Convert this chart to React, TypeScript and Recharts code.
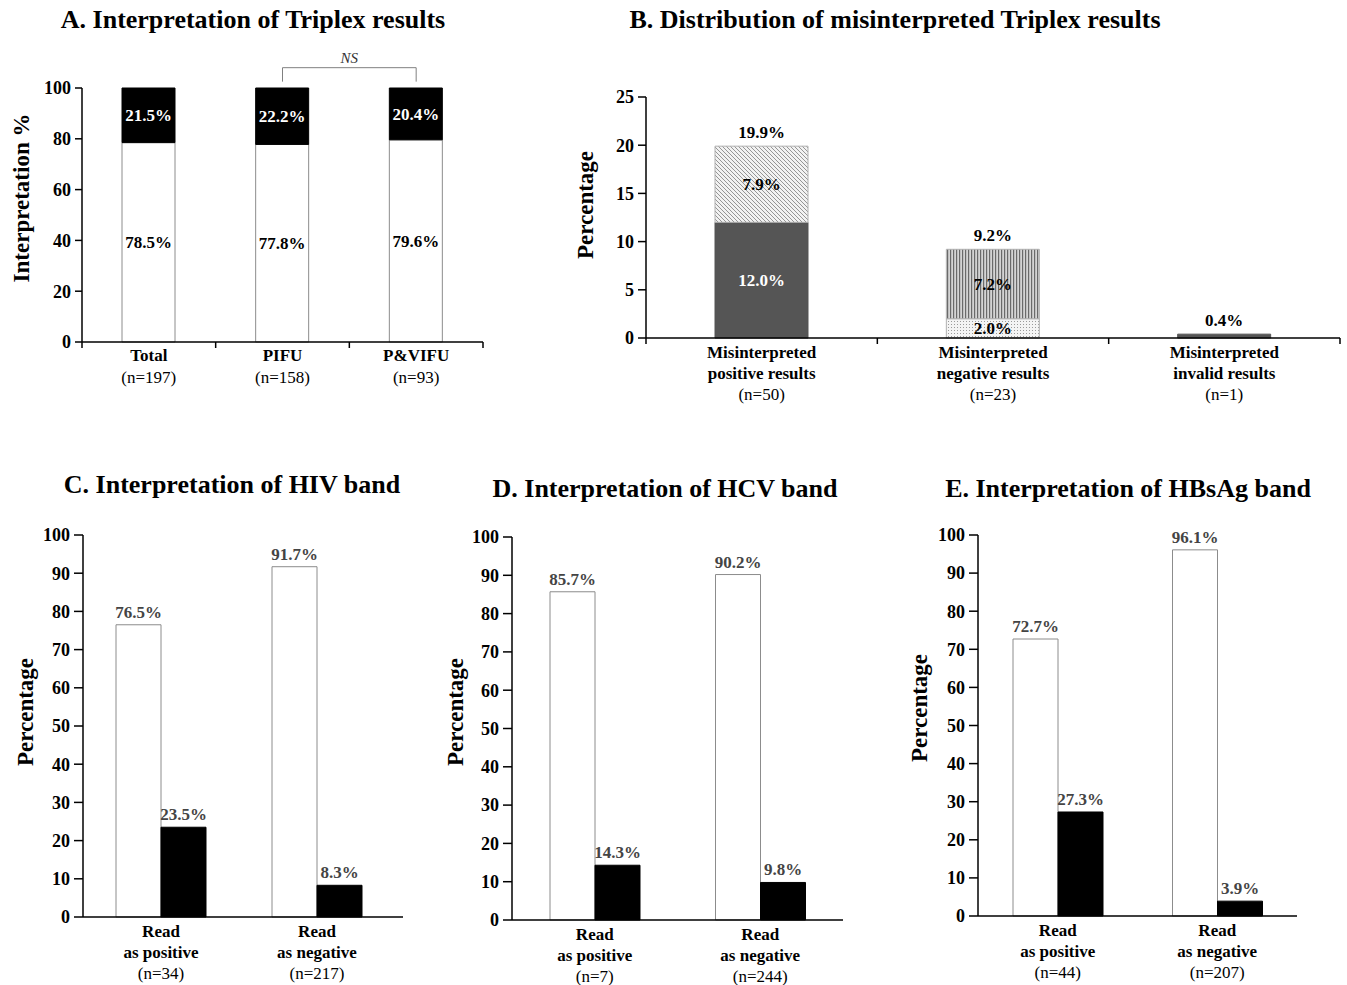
import React from 'react';
import { BarChart, Bar, XAxis, YAxis, LabelList, Cell, ReferenceLine } from 'recharts';

const FONT = '"Liberation Serif", "Times New Roman", Times, serif';

// ---------- Panel A ----------
const groupsA = ['Total', 'PIFU', 'P&VIFU'];
const groupSizesA = ['(n=197)', '(n=158)', '(n=93)'];
const correctA = [78.5, 77.8, 79.6];
const misreadA = [21.5, 22.2, 20.4];
const ticksA = [0, 20, 40, 60, 80, 100];

// ---------- Panel B ----------
const typesB = ['positive', 'negative', 'invalid'];
const typeLinesB = [
  ['Misinterpreted', 'positive results'],
  ['Misinterpreted', 'negative results'],
  ['Misinterpreted', 'invalid results'],
];
const typeSizesB = ['(n=50)', '(n=23)', '(n=1)'];
const lowerB = [12.0, 2.0, 0.4];
const upperB = [7.9, 7.2, 0];
const totalB = [19.9, 9.2, 0.4];
const ticksB = [0, 5, 10, 15, 20, 25];

// ---------- Panels C, D, E ----------
const readAs = ['as positive', 'as negative'];
const hivSizes = ['(n=34)', '(n=217)'];
const hivCorrect = [76.5, 91.7];
const hivWrong = [23.5, 8.3];
const hcvSizes = ['(n=7)', '(n=244)'];
const hcvCorrect = [85.7, 90.2];
const hcvWrong = [14.3, 9.8];
const hbsSizes = ['(n=44)', '(n=207)'];
const hbsCorrect = [72.7, 96.1];
const hbsWrong = [27.3, 3.9];
const ticksPct = [0, 10, 20, 30, 40, 50, 60, 70, 80, 90, 100];

const pct = (v: any) => (typeof v === 'number' ? v.toFixed(1) + '%' : v);

const lowerFillsB = ['#555555', 'url(#dotsB)', '#555555'];
const lowerStrokeB = ['#555555', '#b0b0b0', '#555555'];
const upperFillsB = ['url(#diagB)', 'url(#vertB)', 'none'];
const upperStrokeB = ['#b0b0b0', '#b0b0b0', 'none'];

const Title = ({ x, y, children }: any) => (
  <div
    style={{
      position: 'absolute',
      left: x,
      top: y,
      transform: 'translate(-50%,-50%)',
      whiteSpace: 'nowrap',
      fontWeight: 'bold',
      fontSize: 26,
      lineHeight: 1,
      color: '#000',
    }}
  >
    {children}
  </div>
);

const YTitle = ({ x, y, children }: any) => (
  <div
    style={{
      position: 'absolute',
      left: x,
      top: y,
      transform: 'translate(-50%,-50%) rotate(-90deg)',
      whiteSpace: 'nowrap',
      fontWeight: 'bold',
      fontSize: 23,
      lineHeight: 1,
      color: '#000',
    }}
  >
    {children}
  </div>
);

const yTick = { fill: '#000', fontSize: 18, fontWeight: 'bold' as const };
const axisLine = { stroke: '#000', strokeWidth: 1.5 };

function getBox(props: any) {
  const vb = props.viewBox || {};
  return {
    x: props.x ?? vb.x,
    y: props.y ?? vb.y,
    width: props.width ?? vb.width,
    height: props.height ?? vb.height,
  };
}

// X tick for panel A
function TickA(props: any) {
  const { x, y, payload, index } = props;
  const half = payload && payload.offset ? payload.offset : 67;
  return (
    <g>
      {index === 0 && <line x1={x - half} x2={x - half} y1={y} y2={y + 6} stroke="#000" strokeWidth={1.5} />}
      <line x1={x + half} x2={x + half} y1={y} y2={y + 6} stroke="#000" strokeWidth={1.5} />
      <text x={x} y={y + 19} textAnchor="middle" fontWeight="bold" fontSize={17} fill="#000">
        {payload.value}
      </text>
      <text x={x} y={y + 41} textAnchor="middle" fontSize={17} fill="#000">
        {groupSizesA[index]}
      </text>
    </g>
  );
}

// X tick for panel B
function TickB(props: any) {
  const { x, y, payload, index } = props;
  const half = payload && payload.offset ? payload.offset : 115.5;
  const lines = typeLinesB[index] || ['', ''];
  return (
    <g>
      {index === 0 && <line x1={x - half} x2={x - half} y1={y} y2={y + 6} stroke="#000" strokeWidth={1.5} />}
      <line x1={x + half} x2={x + half} y1={y} y2={y + 6} stroke="#000" strokeWidth={1.5} />
      <text x={x} y={y + 20} textAnchor="middle" fontWeight="bold" fontSize={17} fill="#000">
        {lines[0]}
      </text>
      <text x={x} y={y + 41} textAnchor="middle" fontWeight="bold" fontSize={17} fill="#000">
        {lines[1]}
      </text>
      <text x={x} y={y + 62} textAnchor="middle" fontSize={17} fill="#000">
        {typeSizesB[index]}
      </text>
    </g>
  );
}

function makeBandTick(sizes: string[]) {
  return (props: any) => {
    const { x, y, payload, index } = props;
    return (
      <g>
        <text x={x} y={y + 20} textAnchor="middle" fontWeight="bold" fontSize={17} fill="#000">
          Read
        </text>
        <text x={x} y={y + 41} textAnchor="middle" fontWeight="bold" fontSize={17} fill="#000">
          {payload.value}
        </text>
        <text x={x} y={y + 62} textAnchor="middle" fontSize={17} fill="#000">
          {sizes[index]}
        </text>
      </g>
    );
  };
}

function innerLabelB(values: number[], fills: string[], hideWhen: (i: number) => boolean) {
  return (props: any) => {
    const idx = props.index;
    if (idx == null || hideWhen(idx)) return null;
    const { x, y, width, height } = getBox(props);
    const color = fills[idx] && fills[idx].startsWith('#') ? '#fff' : '#000';
    return (
      <text
        x={x + width / 2}
        y={y + height / 2}
        dy="0.35em"
        textAnchor="middle"
        fontWeight="bold"
        fontSize={17}
        fill={color}
      >
        {pct(values[idx])}
      </text>
    );
  };
}

function totalLabelB(showWhen: (i: number) => boolean) {
  return (props: any) => {
    const idx = props.index;
    if (idx == null || !showWhen(idx)) return null;
    const { x, y, width } = getBox(props);
    return (
      <text x={x + width / 2} y={y - 8} textAnchor="middle" fontWeight="bold" fontSize={17} fill="#000">
        {pct(totalB[idx])}
      </text>
    );
  };
}

function BandChart({ left, top, width, height, margin, xHeight, correct, wrong, sizes, padRight }: any) {
  const rows = readAs.map((r, i) => ({ name: r, correct: correct[i], wrong: wrong[i] }));
  return (
    <div style={{ position: 'absolute', left, top }}>
      <BarChart width={width} height={height} data={rows} margin={margin} barGap={0} barSize={45}>
        <XAxis
          dataKey="name"
          height={xHeight}
          axisLine={axisLine}
          tickLine={false}
          tickSize={0}
          tickMargin={0}
          interval={0}
          padding={{ left: 0, right: padRight }}
          tick={makeBandTick(sizes)}
        />
        <YAxis
          width={50}
          domain={[0, 100]}
          ticks={ticksPct}
          interval={0}
          axisLine={axisLine}
          tickLine={{ stroke: '#000', strokeWidth: 1.5 }}
          tickSize={9}
          tickMargin={4}
          tick={yTick}
        />
        <Bar dataKey="correct" fill="#fff" stroke="#8c8c8c" strokeWidth={1} isAnimationActive={false}>
          <LabelList
            dataKey="correct"
            position="top"
            offset={7}
            formatter={pct}
            fill="#444"
            fontSize={17}
            fontWeight="bold"
          />
        </Bar>
        <Bar dataKey="wrong" fill="#000" stroke="#000" strokeWidth={1} isAnimationActive={false}>
          <LabelList
            dataKey="wrong"
            position="top"
            offset={7}
            formatter={pct}
            fill="#444"
            fontSize={17}
            fontWeight="bold"
          />
        </Bar>
      </BarChart>
    </div>
  );
}

export default function App() {
  const rowsA = groupsA.map((g, i) => ({ name: g, correct: correctA[i], misread: misreadA[i] }));
  const rowsB = typesB.map((t, i) => ({ name: t, lower: lowerB[i], upper: upperB[i], total: totalB[i] }));

  return (
    <div
      style={{
        position: 'absolute',
        left: 0,
        top: 0,
        width: 1347,
        height: 985,
        overflow: 'hidden',
        background: '#fff',
        fontFamily: FONT,
      }}
    >
      <svg width={0} height={0} style={{ position: 'absolute' }}>
        <defs>
          <pattern id="diagB" patternUnits="userSpaceOnUse" width={4} height={4}>
            <rect width={4} height={4} fill="#f2f2f2" />
            <path d="M-1,-1 L5,5 M3,-1 L5,1 M-1,3 L1,5" stroke="#8a8a8a" strokeWidth={0.9} />
          </pattern>
          <pattern id="vertB" patternUnits="userSpaceOnUse" width={3} height={3}>
            <rect width={3} height={3} fill="#d4d4d4" />
            <rect x={0} y={0} width={1.2} height={3} fill="#6a6a6a" />
          </pattern>
          <pattern id="dotsB" patternUnits="userSpaceOnUse" width={3} height={3}>
            <rect width={3} height={3} fill="#f4f4f4" />
            <rect x={1} y={1} width={1} height={1} fill="#9a9a9a" />
          </pattern>
        </defs>
      </svg>

      {/* Titles */}
      <Title x={253} y={20}>A. Interpretation of Triplex results</Title>
      <Title x={895} y={20}>B. Distribution of misinterpreted Triplex results</Title>
      <Title x={232} y={485}>C. Interpretation of HIV band</Title>
      <Title x={665} y={489}>D. Interpretation of HCV band</Title>
      <Title x={1128} y={489}>E. Interpretation of HBsAg band</Title>

      {/* Y titles */}
      <YTitle x={21} y={198}>Interpretation %</YTitle>
      <YTitle x={585} y={205}>Percentage</YTitle>
      <YTitle x={25} y={712}>Percentage</YTitle>
      <YTitle x={455} y={712}>Percentage</YTitle>
      <YTitle x={919} y={708}>Percentage</YTitle>

      {/* Panel A */}
      <div style={{ position: 'absolute', left: 0, top: 40 }}>
        <BarChart
          width={500}
          height={360}
          data={rowsA}
          margin={{ top: 48, right: 17, left: 32, bottom: 8 }}
          barSize={53}
        >
          <XAxis
            dataKey="name"
            height={50}
            axisLine={axisLine}
            tickLine={false}
            tickSize={0}
            tickMargin={0}
            interval={0}
            tick={(p: any) => <TickA {...p} />}
          />
          <YAxis
            width={50}
            domain={[0, 100]}
            ticks={ticksA}
            interval={0}
            axisLine={axisLine}
            tickLine={{ stroke: '#000', strokeWidth: 1.5 }}
            tickSize={7}
            tickMargin={4}
            tick={yTick}
          />
          <Bar dataKey="correct" stackId="a" fill="#fff" stroke="#8c8c8c" strokeWidth={1} isAnimationActive={false}>
            <LabelList dataKey="correct" position="center" formatter={pct} fill="#000" fontSize={17} fontWeight="bold" />
          </Bar>
          <Bar dataKey="misread" stackId="a" fill="#000" stroke="#000" strokeWidth={1} isAnimationActive={false}>
            <LabelList dataKey="misread" position="center" formatter={pct} fill="#fff" fontSize={17} fontWeight="bold" />
          </Bar>
          <ReferenceLine
            segment={[
              { x: 'PIFU', y: 102.5 },
              { x: 'PIFU', y: 108 },
            ]}
            ifOverflow="visible"
            stroke="#808080"
            strokeWidth={1}
          />
          <ReferenceLine
            segment={[
              { x: 'P&VIFU', y: 102.5 },
              { x: 'P&VIFU', y: 108 },
            ]}
            ifOverflow="visible"
            stroke="#808080"
            strokeWidth={1}
          />
          <ReferenceLine
            segment={[
              { x: 'PIFU', y: 108 },
              { x: 'P&VIFU', y: 108 },
            ]}
            ifOverflow="visible"
            stroke="#808080"
            strokeWidth={1}
            label={{ value: 'NS', position: 'top', offset: 5, fontStyle: 'italic', fontSize: 15, fill: '#333' }}
          />
        </BarChart>
      </div>

      {/* Panel B */}
      <div style={{ position: 'absolute', left: 560, top: 80 }}>
        <BarChart
          width={787}
          height={330}
          data={rowsB}
          margin={{ top: 17, right: 7, left: 26, bottom: 10 }}
          barSize={93}
        >
          <XAxis
            dataKey="name"
            height={62}
            axisLine={axisLine}
            tickLine={false}
            tickSize={0}
            tickMargin={0}
            interval={0}
            tick={(p: any) => <TickB {...p} />}
          />
          <YAxis
            width={60}
            domain={[0, 25]}
            ticks={ticksB}
            interval={0}
            axisLine={axisLine}
            tickLine={{ stroke: '#000', strokeWidth: 1.5 }}
            tickSize={8}
            tickMargin={4}
            tick={yTick}
          />
          <Bar dataKey="lower" stackId="b" isAnimationActive={false}>
            {rowsB.map((r, i) => (
              <Cell key={r.name} fill={lowerFillsB[i]} stroke={lowerStrokeB[i]} strokeWidth={1} />
            ))}
            <LabelList dataKey="lower" content={innerLabelB(lowerB, lowerFillsB, (i) => upperB[i] === 0)} />
            <LabelList dataKey="total" content={totalLabelB((i) => upperB[i] === 0)} />
          </Bar>
          <Bar dataKey="upper" stackId="b" isAnimationActive={false}>
            {rowsB.map((r, i) => (
              <Cell key={r.name} fill={upperFillsB[i]} stroke={upperStrokeB[i]} strokeWidth={1} />
            ))}
            <LabelList dataKey="upper" content={innerLabelB(upperB, upperFillsB, (i) => upperB[i] === 0)} />
            <LabelList dataKey="total" content={totalLabelB((i) => upperB[i] > 0)} />
          </Bar>
        </BarChart>
      </div>

      {/* Panel C */}
      <BandChart
        left={0}
        top={520}
        width={440}
        height={465}
        margin={{ top: 15, right: 37, left: 33, bottom: 8 }}
        xHeight={60}
        correct={hivCorrect}
        wrong={hivWrong}
        sizes={hivSizes}
        padRight={8}
      />
      {/* Panel D */}
      <BandChart
        left={430}
        top={520}
        width={460}
        height={468}
        margin={{ top: 17, right: 47, left: 32, bottom: 8 }}
        xHeight={60}
        correct={hcvCorrect}
        wrong={hcvWrong}
        sizes={hcvSizes}
        padRight={0}
      />
      {/* Panel E */}
      <BandChart
        left={890}
        top={520}
        width={457}
        height={465}
        margin={{ top: 15, right: 50, left: 38, bottom: 9 }}
        xHeight={60}
        correct={hbsCorrect}
        wrong={hbsWrong}
        sizes={hbsSizes}
        padRight={0}
      />
    </div>
  );
}
